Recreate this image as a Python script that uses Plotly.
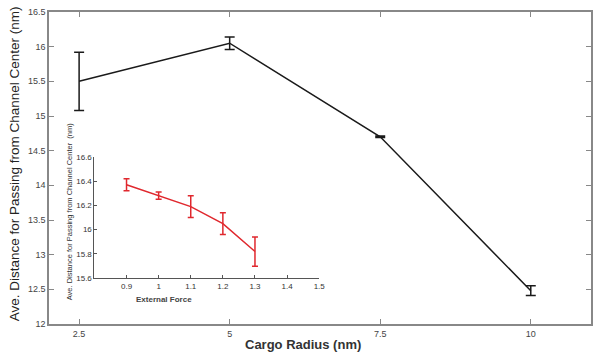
import plotly.graph_objects as go

# Main series
cargo_radius = [2.5, 5, 7.5, 10]
avg_distance = [15.50, 16.05, 14.70, 12.48]
avg_distance_err = [0.42, 0.09, 0.01, 0.07]

# Inset series
external_force = [0.9, 1.0, 1.1, 1.2, 1.3]
inset_distance = [16.37, 16.28, 16.19, 16.05, 15.82]
inset_err = [0.05, 0.03, 0.09, 0.09, 0.12]

main_ticks_x = [2.5, 5, 7.5, 10]
main_ticks_y = [12, 12.5, 13, 13.5, 14, 14.5, 15, 15.5, 16, 16.5]
inset_ticks_x = [0.9, 1.0, 1.1, 1.2, 1.3, 1.4, 1.5]
inset_ticks_y = [15.6, 15.8, 16.0, 16.2, 16.4, 16.6]

fig = go.Figure()
fig.add_trace(go.Scatter(
    x=cargo_radius, y=avg_distance, mode="lines",
    line=dict(color="#1a1a1a", width=1.5),
    error_y=dict(type="data", array=avg_distance_err, color="#1a1a1a", thickness=1.5, width=5),
    xaxis="x", yaxis="y", showlegend=False))
fig.add_trace(go.Scatter(
    x=external_force, y=inset_distance, mode="lines",
    line=dict(color="#e0282e", width=1.5),
    error_y=dict(type="data", array=inset_err, color="#e0282e", thickness=1.5, width=3),
    xaxis="x2", yaxis="y2", showlegend=False))

tickfont = dict(family="Liberation Sans, Arial", size=9, color="#444")
inset_tickfont = dict(family="Liberation Sans, Arial", size=8, color="#333")
fig.update_layout(
    width=598, height=356,
    margin=dict(l=49, r=1, t=12, b=32),
    paper_bgcolor="white", plot_bgcolor="white",
    xaxis=dict(domain=[0, 1], range=[2, 11], tickvals=main_ticks_x,
               ticktext=["2.5", "5", "7.5", "10"],
               showgrid=False, zeroline=False, showline=True, mirror="ticks",
               linecolor="#888", linewidth=1.5, ticks="inside", ticklen=5,
               tickcolor="#888", tickfont=tickfont),
    yaxis=dict(domain=[0, 1], range=[12, 16.5], tickvals=main_ticks_y,
               ticktext=["12", "12.5", "13", "13.5", "14", "14.5", "15", "15.5", "16", "16.5"],
               showgrid=False, zeroline=False, showline=True, mirror="ticks",
               linecolor="#888", linewidth=1.5, ticks="inside", ticklen=5,
               tickcolor="#888", tickfont=tickfont),
    xaxis2=dict(domain=[0.0838, 0.4985], range=[0.8, 1.5], anchor="y2",
                tickvals=inset_ticks_x,
                ticktext=["0.9", "1", "1.1", "1.2", "1.3", "1.4", "1.5"],
                showgrid=False, zeroline=False, showline=True,
                linecolor="#555", linewidth=1, ticks="inside", ticklen=3,
                tickcolor="#555", tickfont=inset_tickfont),
    yaxis2=dict(domain=[0.1465, 0.536], range=[15.6, 16.6], anchor="x2",
                tickvals=inset_ticks_y,
                ticktext=["15.6", "15.8", "16", "16.2", "16.4", "16.6"],
                showgrid=False, zeroline=False, showline=True,
                linecolor="#555", linewidth=1, ticks="inside", ticklen=3,
                tickcolor="#555", tickfont=inset_tickfont),
    annotations=[
        dict(text="Ave. Distance for Passing from Channel Center (nm)",
             xref="paper", yref="paper", x=-0.062, y=0.513, xanchor="center", yanchor="middle",
             textangle=-90, showarrow=False, borderpad=0,
             font=dict(family="Liberation Sans, Arial", size=13.5, color="#222")),
        dict(text="<b>Cargo Radius (nm)</b>",
             xref="paper", yref="paper", x=0.468, y=-0.066, xanchor="center", yanchor="middle",
             showarrow=False,
             font=dict(family="Liberation Sans, Arial", size=13, color="#333")),
        dict(text="Ave. Distance for Passing from Channel Center  (nm)",
             xref="paper", yref="paper", x=0.038, y=0.36, xanchor="center", yanchor="middle",
             textangle=-90, showarrow=False,
             font=dict(family="Liberation Sans, Arial", size=7.5, color="#333")),
        dict(text="<b>External Force</b>",
             xref="paper", yref="paper", x=0.213, y=0.077, xanchor="center", yanchor="middle",
             showarrow=False,
             font=dict(family="Liberation Sans, Arial", size=8, color="#444")),
    ],
)

fig.write_html("out.html", config={"displayModeBar": False},
               post_script="document.body.style.margin='0';")
